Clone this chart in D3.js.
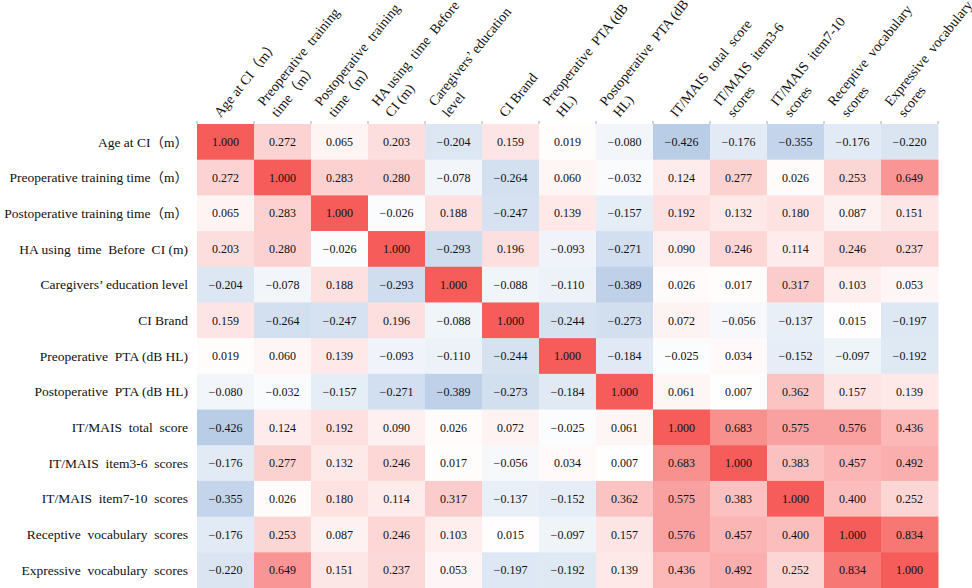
<!DOCTYPE html>
<html>
<head>
<meta charset="utf-8">
<script src="https://cdn.jsdelivr.net/npm/d3@7"></script>
<style>
  body { margin: 0; background: #fff; }
  text { font-family: "Liberation Serif", "Times New Roman", "Noto Sans CJK SC", serif; fill: #111; }
</style>
</head>
<body>
<div id="heatmap"></div>
<script>
// variable names (rows)
var rowLabels = ["Age at CI（m）", "Preoperative training time（m）", "Postoperative training time（m）",
  "HA using  time  Before  CI (m)", "Caregivers’ education level", "CI Brand",
  "Preoperative  PTA (dB HL)", "Postoperative  PTA (dB HL)", "IT/MAIS  total  score",
  "IT/MAIS  item3-6  scores", "IT/MAIS  item7-10  scores", "Receptive  vocabulary  scores",
  "Expressive  vocabulary  scores"];

// column headers, split into lines as in the picture
var colLabels = [
  ["Age at CI（m）"],
  ["Preoperative  training", "time（m）"],
  ["Postoperative  training", "time（m）"],
  ["HA using  time  Before", "CI (m)"],
  ["Caregivers’ education", "level"],
  ["CI Brand"],
  ["Preoperative  PTA (dB", "HL)"],
  ["Postoperative  PTA (dB", "HL)"],
  ["IT/MAIS  total  score"],
  ["IT/MAIS  item3-6", "scores"],
  ["IT/MAIS  item7-10", "scores"],
  ["Receptive  vocabulary", "scores"],
  ["Expressive  vocabulary", "scores"]
];

// correlation matrix
var r0  = [1.000, 0.272, 0.065, 0.203, -0.204, 0.159, 0.019, -0.080, -0.426, -0.176, -0.355, -0.176, -0.220];
var r1  = [0.272, 1.000, 0.283, 0.280, -0.078, -0.264, 0.060, -0.032, 0.124, 0.277, 0.026, 0.253, 0.649];
var r2  = [0.065, 0.283, 1.000, -0.026, 0.188, -0.247, 0.139, -0.157, 0.192, 0.132, 0.180, 0.087, 0.151];
var r3  = [0.203, 0.280, -0.026, 1.000, -0.293, 0.196, -0.093, -0.271, 0.090, 0.246, 0.114, 0.246, 0.237];
var r4  = [-0.204, -0.078, 0.188, -0.293, 1.000, -0.088, -0.110, -0.389, 0.026, 0.017, 0.317, 0.103, 0.053];
var r5  = [0.159, -0.264, -0.247, 0.196, -0.088, 1.000, -0.244, -0.273, 0.072, -0.056, -0.137, 0.015, -0.197];
var r6  = [0.019, 0.060, 0.139, -0.093, -0.110, -0.244, 1.000, -0.184, -0.025, 0.034, -0.152, -0.097, -0.192];
var r7  = [-0.080, -0.032, -0.157, -0.271, -0.389, -0.273, -0.184, 1.000, 0.061, 0.007, 0.362, 0.157, 0.139];
var r8  = [-0.426, 0.124, 0.192, 0.090, 0.026, 0.072, -0.025, 0.061, 1.000, 0.683, 0.575, 0.576, 0.436];
var r9  = [-0.176, 0.277, 0.132, 0.246, 0.017, -0.056, 0.034, 0.007, 0.683, 1.000, 0.383, 0.457, 0.492];
var r10 = [-0.355, 0.026, 0.180, 0.114, 0.317, -0.137, -0.152, 0.362, 0.575, 0.383, 1.000, 0.400, 0.252];
var r11 = [-0.176, 0.253, 0.087, 0.246, 0.103, 0.015, -0.097, 0.157, 0.576, 0.457, 0.400, 1.000, 0.834];
var r12 = [-0.220, 0.649, 0.151, 0.237, 0.053, -0.197, -0.192, 0.139, 0.436, 0.492, 0.252, 0.834, 1.000];
var matrix = [r0, r1, r2, r3, r4, r5, r6, r7, r8, r9, r10, r11, r12];

// margins and size
var m = {left: 197, right: 34, top: 124, bottom: 0};
var W = 972, H = 588;
var w = W - m.left - m.right;
var h = H - m.top - m.bottom;

var svg = d3.select("#heatmap")
  .append("svg")
  .attr("width", W)
  .attr("height", H);

var g = svg.append("g")
  .attr("transform", "translate(" + m.left + "," + m.top + ")");

var idx = d3.range(rowLabels.length);
var x = d3.scaleBand().domain(idx).range([0, w]);
var y = d3.scaleBand().domain(idx).range([0, h]);

// blue - white - red like a spreadsheet colour scale
var color = d3.scaleLinear()
  .domain([-1, 0, 1])
  .range(["#5a8ac6", "#ffffff", "#f55c5a"]);

var cells = [];
matrix.forEach(function(row, i) {
  row.forEach(function(v, j) { cells.push({r: i, c: j, v: v}); });
});

g.selectAll("rect.cell")
  .data(cells)
  .enter()
  .append("rect")
  .attr("class", "cell")
  .attr("x", function(d) { return x(d.c); })
  .attr("y", function(d) { return y(d.r); })
  .attr("width", x.bandwidth() + 0.5)
  .attr("height", y.bandwidth() + 0.5)
  .attr("fill", function(d) { return color(d.v); });

g.selectAll("text.val")
  .data(cells)
  .enter()
  .append("text")
  .attr("class", "val")
  .attr("x", function(d) { return x(d.c) + x.bandwidth() / 2; })
  .attr("y", function(d) { return y(d.r) + y.bandwidth() / 2; })
  .attr("dy", "0.35em")
  .attr("text-anchor", "middle")
  .style("font-size", "12px")
  .text(function(d) { return d3.format(".3f")(d.v); });

// tiny tick marks on top edge
g.selectAll("line.tick")
  .data(d3.range(rowLabels.length + 1))
  .enter()
  .append("line")
  .attr("x1", function(d) { return d * x.step(); })
  .attr("x2", function(d) { return d * x.step(); })
  .attr("y1", -3)
  .attr("y2", 0)
  .attr("stroke", "#aaa")
  .attr("stroke-width", 1);

// row labels
g.selectAll("text.rowlab")
  .data(rowLabels)
  .enter()
  .append("text")
  .attr("class", "rowlab")
  .attr("x", -9)
  .attr("y", function(d, i) { return y(i) + y.bandwidth() / 2; })
  .attr("dy", "0.35em")
  .attr("text-anchor", "end")
  .style("font-size", "13.5px")
  .style("white-space", "pre")
  .text(function(d) { return d; });

// column labels, rotated
var ang = 51, ls = 17.5;
var vx = Math.sin(ang * Math.PI / 180) * ls, vy = Math.cos(ang * Math.PI / 180) * ls;

colLabels.forEach(function(lines, j) {
  var cx = x(j) + x.bandwidth() / 2 - 5;
  lines.forEach(function(line, k) {
    var back = lines.length - 1 - k;
    var px = cx - back * vx, py = -6 - back * vy;
    g.append("text")
      .attr("transform", "translate(" + px + "," + py + ") rotate(" + (-ang) + ")")
      .attr("text-anchor", "start")
      .style("font-size", "14px")
      .style("white-space", "pre")
      .text(line);
  });
});
</script>
</body>
</html>
